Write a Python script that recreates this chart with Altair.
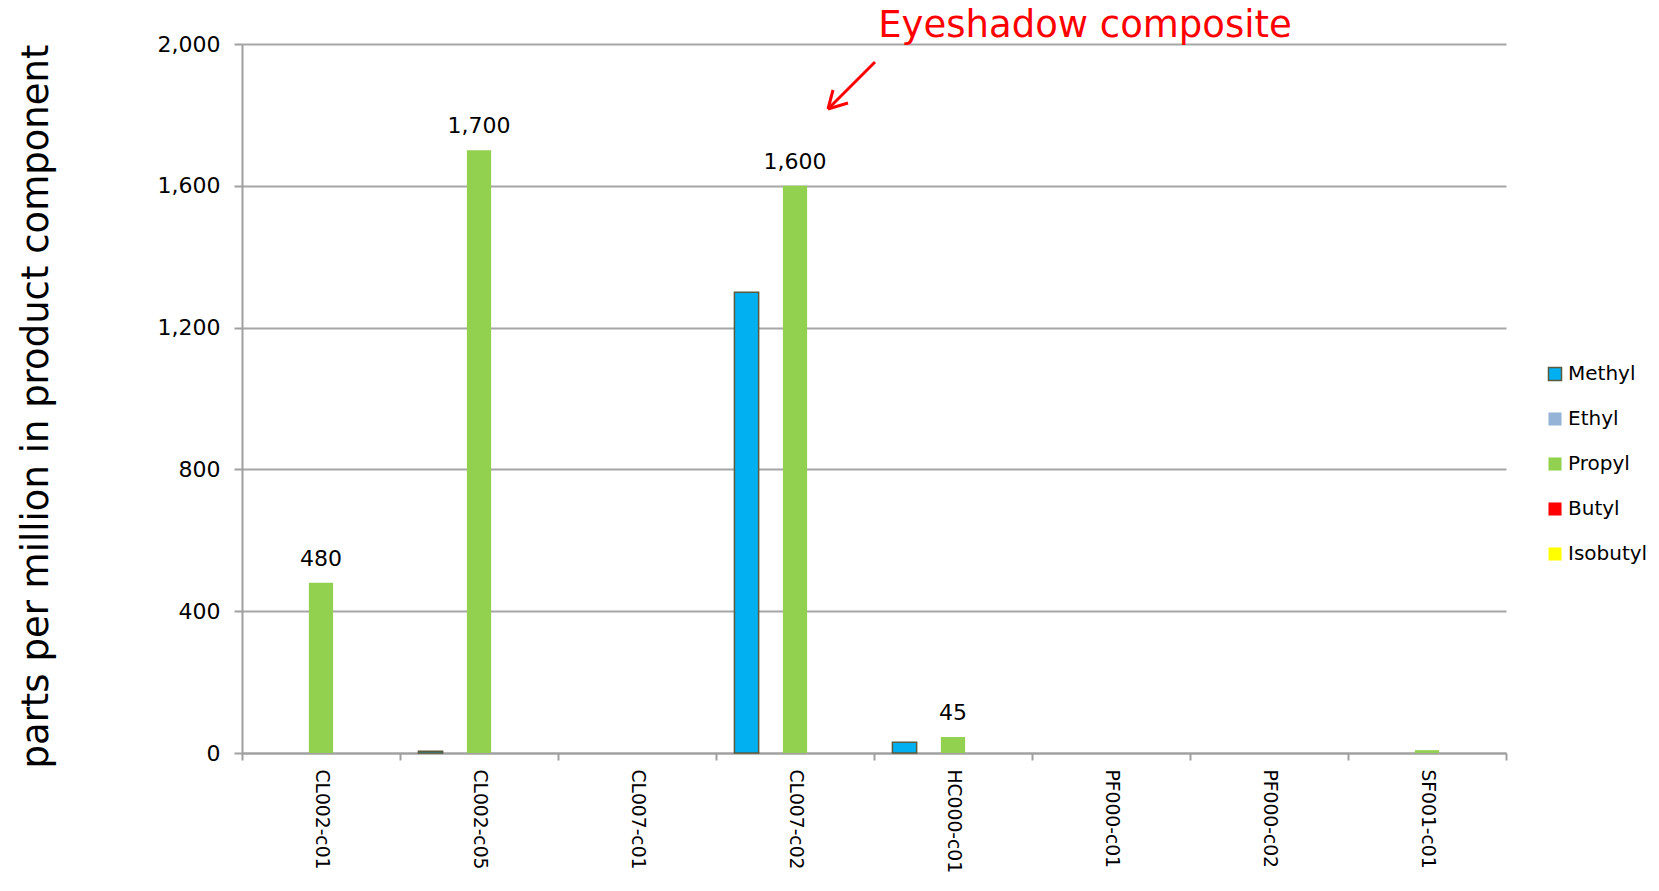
import altair as alt
import pandas as pd

categories = ["CL002-c01", "CL002-c05", "CL007-c01", "CL007-c02",
              "HC000-c01", "PF000-c01", "PF000-c02", "SF001-c01"]
series_names = ["Methyl", "Ethyl", "Propyl", "Butyl", "Isobutyl"]
series_colors = ["#00b0f0", "#95b3d7", "#92d050", "#ff0000", "#ffff00"]
series_strokes = ["#5a5a3c", "rgba(0,0,0,0)", "rgba(0,0,0,0)", "rgba(0,0,0,0)", "rgba(0,0,0,0)"]

methyl = [0, 5, 0, 1300, 30, 0, 0, 0]
ethyl = [0, 0, 0, 0, 0, 0, 0, 0]
propyl = [480, 1700, 0, 1600, 45, 0, 0, 8]
butyl = [0, 0, 0, 0, 0, 0, 0, 0]
isobutyl = [0, 0, 0, 0, 0, 0, 0, 0]

propyl_labels = ["480", "1,700", "", "1,600", "45", "", "", ""]
y_ticks = [0, 400, 800, 1200, 1600, 2000]

FONT = "DejaVu Sans"

rows = []
for s, vals in zip(series_names, [methyl, ethyl, propyl, butyl, isobutyl]):
    for c, v in zip(categories, vals):
        rows.append({"cat": c, "series": s, "value": v})
df = pd.DataFrame(rows)

lab_df = pd.DataFrame({"cat": categories, "series": "Propyl",
                       "value": propyl, "label": propyl_labels})

xscale = alt.Scale(domain=categories, paddingInner=0, paddingOuter=0)
xenc = alt.X("cat:N", sort=categories, title=None, scale=xscale,
             axis=alt.Axis(labelAngle=90, labelAlign="left", labelBaseline="middle",
                           labelFont=FONT, labelFontSize=18.7, labelColor="#000000",
                           labelPadding=9, labelLimit=300, tickBand="extent", tickSize=7,
                           tickColor="#a0a0a0", tickWidth=2,
                           domainColor="#a0a0a0", domainWidth=2, grid=False))
xoff = alt.XOffset("series:N", sort=series_names,
                   scale=alt.Scale(domain=series_names, paddingInner=0, paddingOuter=0.76))
yenc = alt.Y("value:Q", title="parts per million in product component",
             scale=alt.Scale(domain=[0, 2000], nice=False),
             axis=alt.Axis(values=y_ticks, format=",.0f", labelFont=FONT, labelFontSize=22,
                           labelColor="#000000", labelPadding=14, tickSize=8,
                           tickColor="#a0a0a0", tickWidth=2, domainColor="#a0a0a0",
                           domainWidth=2, gridColor="#a6a6a6", gridWidth=2,
                           titleFont=FONT, titleFontSize=37, titleFontWeight="normal",
                           titleColor="#000000", titleX=-206, titleY=362,
                           titleAlign="center", titleBaseline="middle"))

legend_kw = dict(orient="none", legendX=1303, legendY=320,
                 symbolType="square", symbolSize=170, symbolStrokeWidth=1.5,
                 labelFont=FONT, labelFontSize=20, labelColor="#000000",
                 rowPadding=25, labelOffset=3, labelLimit=200)

bars = alt.Chart(df).transform_filter("datum.value > 0").mark_bar(strokeWidth=1.5).encode(
    x=xenc, xOffset=xoff, y=yenc,
    fill=alt.Fill("series:N", sort=series_names, title=None,
                  scale=alt.Scale(domain=series_names, range=series_colors),
                  legend=alt.Legend(**legend_kw)),
    stroke=alt.Stroke("series:N", sort=series_names, title=None,
                      scale=alt.Scale(domain=series_names, range=series_strokes),
                      legend=alt.Legend(**legend_kw)),
)

labels = alt.Chart(lab_df).transform_filter("datum.label != ''").mark_text(
    font=FONT, fontSize=22, color="#000000", baseline="bottom", dy=-12
).encode(x=alt.X("cat:N", sort=categories, scale=xscale), xOffset=xoff,
         y=alt.Y("value:Q"), text="label:N")

annot = alt.Chart(pd.DataFrame({"t": ["Eyeshadow composite"]})).mark_text(
    font=FONT, fontSize=37, color="#ff0000", baseline="alphabetic", align="center"
).encode(x=alt.value(843), y=alt.value(-7), text="t:N")

arrow_df = pd.DataFrame({
    "x": [633, 586, 586], "y": [18, 65, 65],
    "x2": [586, 591, 606], "y2": [65, 46, 59]})
arrow = alt.Chart(arrow_df).mark_rule(color="#ff0000", strokeWidth=3).encode(
    x=alt.X("x:Q", scale=None), y=alt.Y("y:Q", scale=None),
    x2="x2:Q", y2="y2:Q")

chart = alt.layer(bars, labels, annot, arrow).properties(
    width=1264, height=709,
    autosize=alt.AutoSizeParams(type="none"),
    padding={"left": 234, "top": 36, "right": 144, "bottom": 130},
).configure(background="#ffffff", view=alt.ViewConfig(strokeWidth=0))

chart.save("out.html", embed_options={"renderer": "svg", "actions": False})
